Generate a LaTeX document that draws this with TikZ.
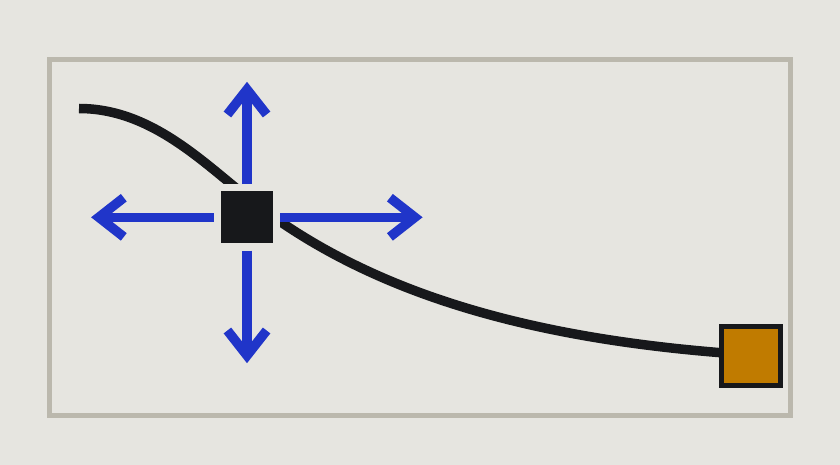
\documentclass[tikz,border=0pt]{standalone}
\usetikzlibrary{calc}
\definecolor{bgc}{HTML}{E6E5E0}
\definecolor{framec}{HTML}{BBB8AD}
\definecolor{inkc}{HTML}{17181B}
\definecolor{bluec}{HTML}{2035C9}
\definecolor{orangec}{HTML}{C07B00}
\tikzset{
  framebox/.style={draw=framec, line width=5.5pt},
  curvepath/.style={draw=inkc, line width=9.5pt},
  halo/.style={rectangle, fill=bgc, minimum size=66.5pt, inner sep=0pt, outer sep=0pt},
  handlebox/.style={rectangle, fill=inkc, minimum size=52pt, inner sep=0pt},
  orangebox/.style={rectangle, draw=inkc, fill=orangec, line width=5.3pt, minimum size=59.3pt, inner sep=0pt},
  shaft/.style={draw=bluec, line width=9.5pt},
  chev/.style={draw=bluec, line width=9.5pt, line join=miter}
}
\begin{document}
\begin{tikzpicture}[x=1pt, y=-1pt]
\fill[bgc] (0,0) rectangle (840,465);
\useasboundingbox (0,0) rectangle (840,465);
\draw[framebox] (49.3,59.5) rectangle (790.3,415.3);
\coordinate (c0) at (79,108.5);
\coordinate (cm) at (247,197);
\coordinate (cend) at (722,352.8);
\draw[curvepath] (c0) .. controls +(70,0) and +(-46.8,-37.5) .. (cm)
  .. controls +(117,93.75) and +(-200,-16) .. (cend);
\node[halo] (hal) at (247,217.3) {};
\node[handlebox] (h) at (247,217.3) {};
\node[orangebox] (or) at (751,355.8) {};
\coordinate (upT) at (247,89.5);
\coordinate (dnT) at (247,355.5);
\coordinate (lfT) at (98.8,217.3);
\coordinate (rtT) at (414.9,217.3);
\draw[shaft] (hal.north) -- (upT);
\draw[shaft] (hal.south) -- (dnT);
\draw[shaft] (hal.west) -- (lfT);
\draw[shaft] (hal.east) -- (rtT);
\draw[chev] ([shift={(-19.6,25)}]upT) -- (upT) -- ([shift={(19.6,25)}]upT);
\draw[chev] ([shift={(-19.6,-25)}]dnT) -- (dnT) -- ([shift={(19.6,-25)}]dnT);
\draw[chev] ([shift={(25,-19.6)}]lfT) -- (lfT) -- ([shift={(25,19.6)}]lfT);
\draw[chev] ([shift={(-25,-19.6)}]rtT) -- (rtT) -- ([shift={(-25,19.6)}]rtT);
\end{tikzpicture}
\end{document}
